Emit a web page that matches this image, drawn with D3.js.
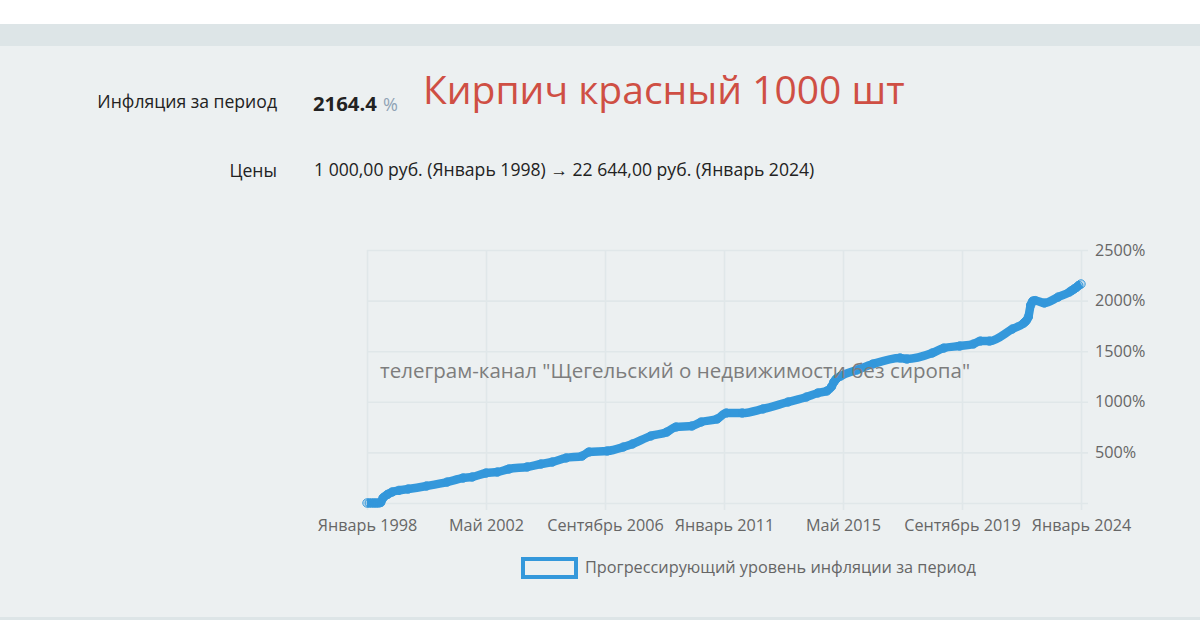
<!DOCTYPE html>
<html>
<head>
<meta charset="utf-8">
<script src="https://cdn.jsdelivr.net/npm/d3@7"></script>
<style>
  html, body { margin: 0; padding: 0; background: #fff; }
  svg { display: block; }
  text { font-family: "Open Sans", "Noto Sans", sans-serif; }
  .domain { display: none; }
</style>
</head>
<body>
<script>
// months since Jan 1998 and inflation in %
const months = [0,1,2,3,4,5,6,7,9,11,14,18,26,35,42,46,52,57,62,70,76,81,87,94,97,105,112,116,124,131,135,142,146,153,157,164,173,184,192,197,201,203,204,205,207,214,221,233,236,247,252,259,265,268,272,282,287,288,289,290,291,292,296,302,307,308,309,310,311,312];
const values = [0,0,0,0,0,0,5,50,85,109,125,138,168,207,247,257,296,306,336,356,385,405,445,464,504,514,553,583,662,701,751,761,800,830,889,889,929,998,1047,1087,1107,1150,1195,1225,1255,1314,1373,1433,1423,1482,1531,1551,1571,1600,1600,1719,1778,1800,1838,1956,1996,2000,1976,2035,2085,2100,2115,2130,2150,2164];

const xTicks = [0,52,104,156,208,260,312];
const xLabels = ['Январь 1998','Май 2002','Сентябрь 2006','Январь 2011','Май 2015','Сентябрь 2019','Январь 2024'];
const yTicks = [0,500,1000,1500,2000,2500];

const width = 1200;
const height = 637;
const blue = '#3498db';

const svg = d3.select('body').append('svg').attr('width', width).attr('height', height);

// page bands
svg.append('rect').attr('y', 24).attr('width', width).attr('height', 596).attr('fill', '#ecf0f1');
svg.append('rect').attr('y', 24).attr('width', width).attr('height', 22).attr('fill', '#dde5e7');
svg.append('rect').attr('y', 617).attr('width', width).attr('height', 3).attr('fill', '#dde5e7');

const x = d3.scaleLinear().domain([0, 312]).range([367, 1081]);
const y = d3.scaleLinear().domain([0, 2500]).range([503, 250]);

const xAxis = svg.append('g')
  .attr('transform', 'translate(0,510)')
  .call(d3.axisBottom(x).tickValues(xTicks).tickSize(-260).tickPadding(9).tickFormat((d, i) => xLabels[i]));

const yAxis = svg.append('g')
  .attr('transform', 'translate(1088,0)')
  .call(d3.axisRight(y).tickValues(yTicks).tickSize(-721).tickPadding(7).tickFormat(d => d ? d + '%' : ''));

[xAxis, yAxis].forEach(axis => {
  axis.selectAll('line').attr('stroke', '#e0e7e9').attr('stroke-width', 1.6);
  axis.selectAll('text').attr('fill', '#666').style('font-size', '16.2px');
});

const line = d3.line().x((d, i) => x(months[i])).y(d => y(d)).curve(d3.curveMonotoneX);

svg.append('path')
  .attr('d', line(values))
  .attr('fill', 'none')
  .attr('stroke', blue)
  .attr('stroke-width', 8.5)
  .attr('stroke-linejoin', 'round');

svg.selectAll('circle.pt')
  .data(values)
  .enter()
  .append('circle')
  .attr('class', 'pt')
  .attr('cx', (d, i) => x(months[i]))
  .attr('cy', d => y(d))
  .attr('r', 4.2)
  .attr('fill', 'rgba(52,152,219,0.2)')
  .attr('stroke', blue)
  .attr('stroke-width', 1);

// legend
svg.append('rect')
  .attr('x', 523).attr('y', 559).attr('width', 53).attr('height', 18)
  .attr('fill', '#ecf0f1').attr('stroke', blue).attr('stroke-width', 4);

const label = (txt, px, py, size, fill, anchor, weight) => svg.append('text')
  .attr('x', px).attr('y', py)
  .attr('text-anchor', anchor || 'start')
  .attr('fill', fill)
  .style('font-size', size + 'px')
  .style('font-weight', weight || 400)
  .text(txt);

label('Прогрессирующий уровень инфляции за период', 585, 573, 16.3, '#666');

// header
label('Инфляция за период', 277, 108, 17.6, '#222', 'end');
label('2164.4', 313, 111, 20.3, '#222', 'start', 700);
label('%', 383, 111, 18, '#8fa3b5');
label('Кирпич красный 1000 шт', 423, 104, 39, '#cf4f44');
label('Цены', 277, 177, 17.6, '#222', 'end');
label('1 000,00 руб. (Январь 1998) → 22 644,00 руб. (Январь 2024)', 314, 176, 17.6, '#222');

// watermark on top of the chart
label('телеграм-канал "Щегельский о недвижимости без сиропа"', 380, 378, 20.5, '#7d7d7d');
</script>
</body>
</html>
